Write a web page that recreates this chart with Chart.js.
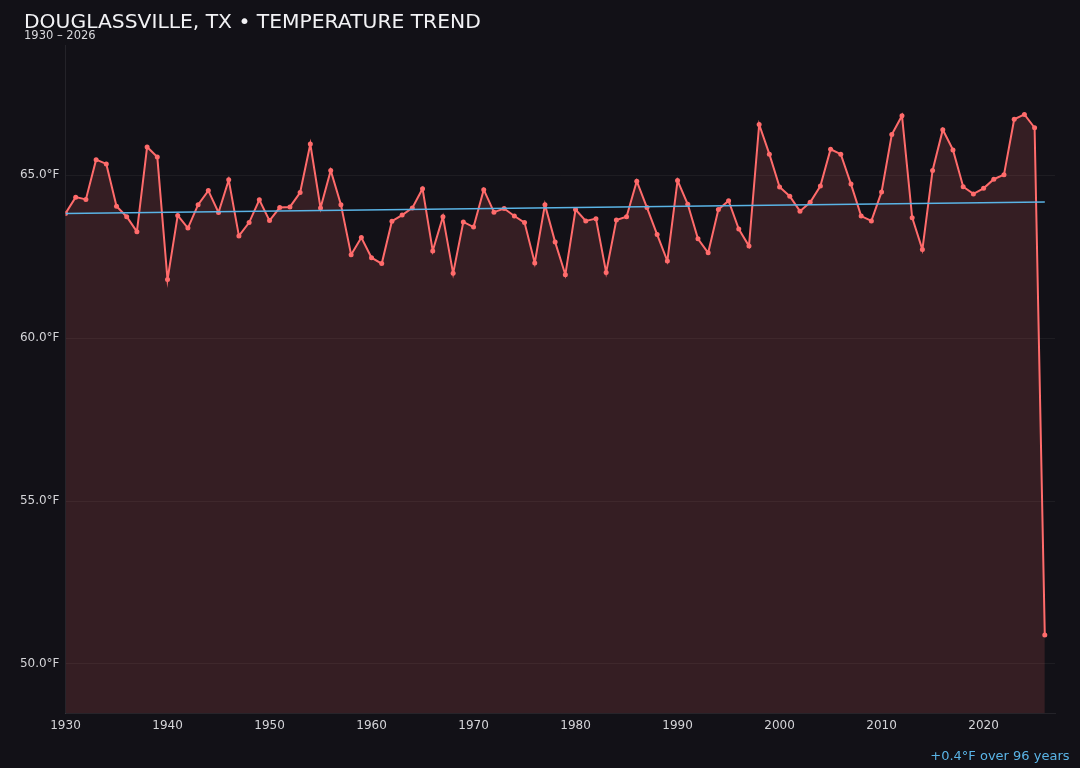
<!DOCTYPE html>
<html>
<head>
<meta charset="utf-8">
<script src="https://cdn.jsdelivr.net/npm/chart.js@4.4.1/dist/chart.umd.min.js"></script>
<style>
  html, body { margin: 0; padding: 0; background: #121117; }
  #wrap { position: relative; width: 1080px; height: 768px; }
  canvas { display: block; }
</style>
</head>
<body>
<div id="wrap"><canvas id="c" width="1080" height="768"></canvas></div>
<script>
const titleText = "DOUGLASSVILLE, TX • TEMPERATURE TREND";
const subtitleText = "1930 – 2026";
const noteText = "+0.4°F over 96 years";

const years = [1930,1931,1932,1933,1934,1935,1936,1937,1938,1939,
  1940,1941,1942,1943,1944,1945,1946,1947,1948,1949,
  1950,1951,1952,1953,1954,1955,1956,1957,1958,1959,
  1960,1961,1962,1963,1964,1965,1966,1967,1968,1969,
  1970,1971,1972,1973,1974,1975,1976,1977,1978,1979,
  1980,1981,1982,1983,1984,1985,1986,1987,1988,1989,
  1990,1991,1992,1993,1994,1995,1996,1997,1998,1999,
  2000,2001,2002,2003,2004,2005,2006,2007,2008,2009,
  2010,2011,2012,2013,2014,2015,2016,2017,2018,2019,
  2020,2021,2022,2023,2024,2025,2026];

const temps = [63.83,64.33,64.26,65.48,65.35,64.05,63.73,63.27,65.87,65.56,
  61.80,63.77,63.38,64.10,64.53,63.86,64.86,63.14,63.55,64.25,
  63.61,64.01,64.03,64.47,65.96,64.00,65.15,64.10,62.56,63.09,
  62.47,62.29,63.59,63.78,64.00,64.59,62.68,63.73,61.99,63.57,
  63.41,64.56,63.87,63.98,63.75,63.55,62.31,64.10,62.95,61.95,
  63.95,63.60,63.67,62.02,63.63,63.73,64.82,64.01,63.18,62.37,
  64.84,64.11,63.05,62.62,63.95,64.22,63.35,62.83,66.56,65.65,
  64.64,64.36,63.90,64.17,64.67,65.80,65.65,64.73,63.75,63.60,
  64.49,66.25,66.83,63.70,62.72,65.15,66.40,65.78,64.65,64.43,
  64.60,64.88,65.02,66.72,66.87,66.46,50.89];

const trendYears = [1930, 2026];
const trendTemps = [63.83, 64.18];

const yTicks = [50, 55, 60, 65];
const xTicks = [1930,1940,1950,1960,1970,1980,1990,2000,2010,2020];

const FONT = "'DejaVu Sans', sans-serif";

const textPlugin = {
  id: 'texts',
  afterDraw(chart) {
    const ctx = chart.ctx;
    ctx.save();
    ctx.textBaseline = 'alphabetic';
    ctx.textAlign = 'left';
    ctx.fillStyle = '#f2f2f5';
    ctx.font = "20.3px " + FONT;
    ctx.fillText(titleText, 24, 27.5);
    ctx.fillStyle = '#d8d8dc';
    ctx.font = "11.5px " + FONT;
    ctx.fillText(subtitleText, 24, 39);
    ctx.textAlign = 'right';
    ctx.fillStyle = '#5ab4e6';
    ctx.font = "13px " + FONT;
    ctx.fillText(noteText, 1069.5, 760);
    ctx.restore();
  }
};

const bgPlugin = {
  id: 'bg',
  beforeDraw(chart) {
    const ctx = chart.ctx;
    ctx.save();
    ctx.fillStyle = '#121117';
    ctx.fillRect(0, 0, chart.width, chart.height);
    ctx.restore();
  }
};

new Chart(document.getElementById('c'), {
  type: 'line',
  data: {
    datasets: [
      {
        label: 'Temperature',
        data: years.map((y, i) => ({ x: y, y: temps[i] })),
        borderColor: '#ff6b6b',
        backgroundColor: 'rgba(255,107,107,0.15)',
        borderWidth: 2,
        pointRadius: 2.5,
        pointBackgroundColor: '#ff6b6b',
        pointBorderWidth: 0,
        fill: 'start',
        tension: 0,
        order: 2
      },
      {
        label: 'Trend',
        data: trendYears.map((y, i) => ({ x: y, y: trendTemps[i] })),
        borderColor: '#5ab4e6',
        borderWidth: 1.5,
        pointRadius: 0,
        fill: false,
        order: 1
      }
    ]
  },
  options: {
    responsive: false,
    animation: false,
    devicePixelRatio: 1,
    layout: { padding: { left: 0, top: 45, right: 25, bottom: 24.5 } },
    plugins: {
      legend: { display: false },
      tooltip: { enabled: false },
      title: { display: false }
    },
    scales: {
      x: {
        type: 'linear',
        min: 1930,
        max: 2027,
        afterFit(s) { s.height = 30; },
        afterBuildTicks(s) { s.ticks = xTicks.map(v => ({ value: v })); },
        grid: { display: false, drawTicks: false },
        border: { display: true, color: 'rgba(255,255,255,0.08)', width: 1 },
        ticks: {
          color: '#d4d4d8',
          font: { family: FONT, size: 12 },
          padding: 5,
          maxRotation: 0,
          callback: v => String(v)
        }
      },
      y: {
        type: 'linear',
        min: 48.48,
        max: 69,
        afterFit(s) { s.width = 65.5; },
        afterBuildTicks(s) { s.ticks = yTicks.map(v => ({ value: v })); },
        grid: { color: 'rgba(255,255,255,0.05)', drawTicks: false },
        border: { display: true, color: 'rgba(255,255,255,0.08)', width: 1 },
        ticks: {
          color: '#d4d4d8',
          font: { family: FONT, size: 12 },
          padding: 6,
          callback: v => v.toFixed(1) + '°F'
        }
      }
    }
  },
  plugins: [bgPlugin, textPlugin]
});
</script>
</body>
</html>
